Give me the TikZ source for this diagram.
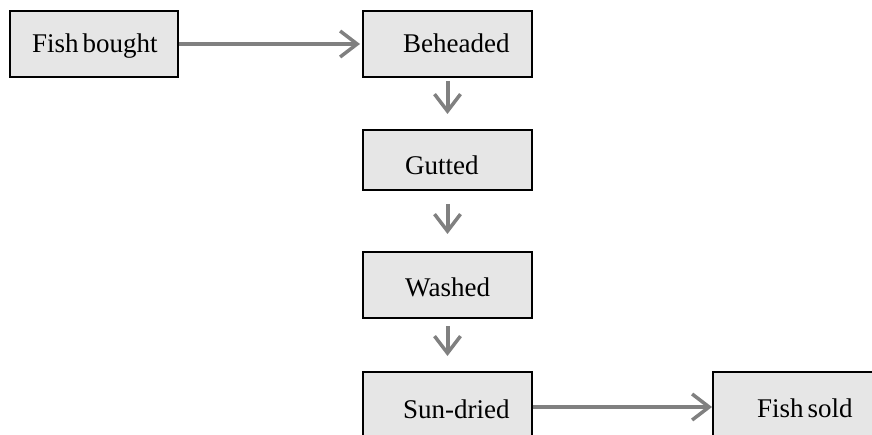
\documentclass[tikz,border=0pt]{standalone}
\usepackage{fontspec}
\setmainfont{Liberation Serif}
\usetikzlibrary{arrows.meta}
\definecolor{boxfill}{HTML}{E6E6E6}
\definecolor{arrowgray}{HTML}{808080}
\begin{document}
\begin{tikzpicture}[x=1pt,y=-1pt,
  stepbox/.style={draw=black,line width=2pt,fill=boxfill,rectangle,inner sep=0pt},
  lbl/.style={anchor=base west,inner sep=0pt,font=\fontsize{27}{32}\selectfont},
  flow/.style={draw=arrowgray,line width=4pt,-{Straight Barb[length=17pt,width=26pt,line width=3.5pt]}}]
\useasboundingbox (0,0) rectangle (872,435);
\clip (0,0) rectangle (872,435);
% boxes
\node[stepbox,minimum width=168pt,minimum height=66pt] (fb) at (94,44) {};
\node[stepbox,minimum width=169pt,minimum height=66pt] (be) at (447.5,44) {};
\node[stepbox,minimum width=169pt,minimum height=60pt] (gu) at (447.5,160) {};
\node[stepbox,minimum width=169pt,minimum height=66pt] (wa) at (447.5,285) {};
\node[stepbox,minimum width=169pt,minimum height=80pt] (sd) at (447.5,412) {};
\node[stepbox,minimum width=180pt,minimum height=80pt] (fs) at (803,412) {};
% labels
\node[lbl] (tfb) at (32,53) {Fish\hspace{4pt}bought};
\node[lbl] (tbe) at (403,53) {Beheaded};
\node[lbl] (tgu) at (405,175) {Gutted};
\node[lbl] (twa) at (405,297) {Washed};
\node[lbl] (tsd) at (403,418) {Sun-dried};
\node[lbl] (tfs) at (757,417) {Fish\hspace{4pt}sold};
% connectors
\draw[flow,shorten >=2pt] (fb.east) -- (be.west);
\draw[flow,shorten <=3pt,shorten >=15pt] (be.south) -- (gu.north);
\draw[flow,shorten <=13pt,shorten >=17pt] (gu.south) -- (wa.north);
\draw[flow,shorten <=7pt,shorten >=15pt] (wa.south) -- (sd.north);
\draw[flow] (sd.east |- 0,407) -- (fs.west |- 0,407);
\end{tikzpicture}
\end{document}
